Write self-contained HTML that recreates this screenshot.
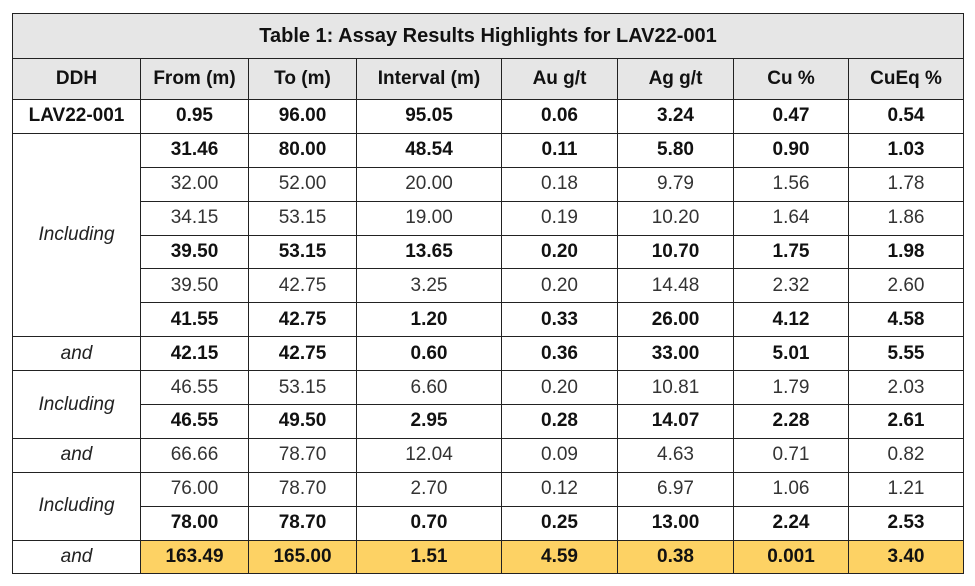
<!DOCTYPE html>
<html><head><meta charset="utf-8"><style>
body{margin:0;width:975px;height:586px;background:#fff;font-family:"Liberation Sans",sans-serif;}
table{position:absolute;left:12px;top:13px;border-collapse:collapse;table-layout:fixed;width:951px;}
td,th{border:1.5px solid #222;text-align:center;font-size:19px;color:#111;padding:0;height:32.9px;}
th{background:#e6e6e6;font-weight:bold;height:40px;}
.t{height:44px;font-size:20px;}
.b td{font-weight:bold;}
.l td{font-weight:normal;color:#333;}
.b td.i,.l td.i,td.i{font-style:italic;font-weight:normal;color:#222;}
tr.in td{border-top:1px solid #444;}
.y td:not(.i){background:#fdd264;font-weight:bold;}
</style></head><body>
<table>
<colgroup><col style="width:128px"><col style="width:108px"><col style="width:108px"><col style="width:145px"><col style="width:116px"><col style="width:116px"><col style="width:115px"><col style="width:115px"></colgroup>
<tr><th colspan="8" class="t">Table 1: Assay Results Highlights for LAV22-001</th></tr>
<tr><th>DDH</th><th>From (m)</th><th>To (m)</th><th>Interval (m)</th><th>Au g/t</th><th>Ag g/t</th><th>Cu %</th><th>CuEq %</th></tr>
<tr class="b"><td>LAV22-001</td><td>0.95</td><td>96.00</td><td>95.05</td><td>0.06</td><td>3.24</td><td>0.47</td><td>0.54</td></tr>
<tr class="b"><td class="i" rowspan="6">Including</td><td>31.46</td><td>80.00</td><td>48.54</td><td>0.11</td><td>5.80</td><td>0.90</td><td>1.03</td></tr>
<tr class="l in"><td>32.00</td><td>52.00</td><td>20.00</td><td>0.18</td><td>9.79</td><td>1.56</td><td>1.78</td></tr>
<tr class="l in"><td>34.15</td><td>53.15</td><td>19.00</td><td>0.19</td><td>10.20</td><td>1.64</td><td>1.86</td></tr>
<tr class="b in"><td>39.50</td><td>53.15</td><td>13.65</td><td>0.20</td><td>10.70</td><td>1.75</td><td>1.98</td></tr>
<tr class="l in"><td>39.50</td><td>42.75</td><td>3.25</td><td>0.20</td><td>14.48</td><td>2.32</td><td>2.60</td></tr>
<tr class="b in"><td>41.55</td><td>42.75</td><td>1.20</td><td>0.33</td><td>26.00</td><td>4.12</td><td>4.58</td></tr>
<tr class="b"><td class="i">and</td><td>42.15</td><td>42.75</td><td>0.60</td><td>0.36</td><td>33.00</td><td>5.01</td><td>5.55</td></tr>
<tr class="l"><td class="i" rowspan="2">Including</td><td>46.55</td><td>53.15</td><td>6.60</td><td>0.20</td><td>10.81</td><td>1.79</td><td>2.03</td></tr>
<tr class="b in"><td>46.55</td><td>49.50</td><td>2.95</td><td>0.28</td><td>14.07</td><td>2.28</td><td>2.61</td></tr>
<tr class="l"><td class="i">and</td><td>66.66</td><td>78.70</td><td>12.04</td><td>0.09</td><td>4.63</td><td>0.71</td><td>0.82</td></tr>
<tr class="l"><td class="i" rowspan="2">Including</td><td>76.00</td><td>78.70</td><td>2.70</td><td>0.12</td><td>6.97</td><td>1.06</td><td>1.21</td></tr>
<tr class="b in"><td>78.00</td><td>78.70</td><td>0.70</td><td>0.25</td><td>13.00</td><td>2.24</td><td>2.53</td></tr>
<tr class="b y"><td class="i">and</td><td>163.49</td><td>165.00</td><td>1.51</td><td>4.59</td><td>0.38</td><td>0.001</td><td>3.40</td></tr>
</table>
</body></html>
